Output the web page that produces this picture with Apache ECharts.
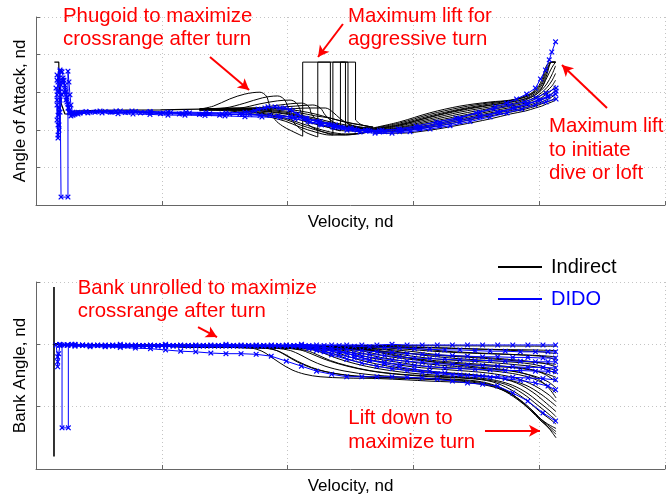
<!DOCTYPE html>
<html>
<head>
<meta charset="utf-8">
<title>Indirect vs DIDO controls</title>
<script src="https://cdn.jsdelivr.net/npm/echarts@6/dist/echarts.min.js"></script>
<style>
  html, body { margin: 0; padding: 0; background: #ffffff; }
  #chart { width: 671px; height: 495px; }
</style>
</head>
<body>
<div id="chart"></div>
<script>
// ---------- Angle of attack vs velocity (upper panel) ----------
// Indirect solution: shared low-velocity trunk
const aoaTrunk = [[0.146,3.80],[0.181,3.80],[0.183,3.20],[0.20,2.70],[0.23,2.42],[0.27,2.42],[0.31,2.50],[0.51,2.52],[0.99,2.53],[1.30,2.55]];

// Indirect: phugoid arcs after the turn
const aoaPhugoid = [
  [[1.30,2.55],[1.41,2.63],[1.54,2.82],[1.66,2.95],[1.78,3.00],[1.83,2.90],[1.85,2.72],[1.87,2.50],[1.90,2.27],[1.96,2.10],[2.02,1.99],[2.12,1.83]],
  [[1.30,2.55],[1.50,2.58],[1.66,2.71],[1.80,2.85],[1.92,2.90],[1.97,2.82],[2.00,2.63],[2.02,2.37],[2.06,2.15],[2.14,1.94],[2.24,1.81]],
  [[1.30,2.55],[1.62,2.58],[1.78,2.69],[1.92,2.77],[2.02,2.79],[2.07,2.71],[2.10,2.53],[2.12,2.31],[2.18,2.10],[2.26,1.97],[2.36,1.86]],
  [[1.30,2.55],[1.74,2.58],[1.94,2.66],[2.11,2.71],[2.17,2.61],[2.19,2.42],[2.24,2.23],[2.32,2.07],[2.42,1.97]],
  [[1.30,2.55],[1.82,2.58],[2.06,2.63],[2.20,2.66],[2.26,2.58],[2.30,2.39],[2.36,2.21],[2.46,2.07],[2.58,2.02],[2.68,1.99]],
  [[1.30,2.55],[1.94,2.55],[2.18,2.58],[2.30,2.58],[2.36,2.47],[2.42,2.29],[2.50,2.13],[2.58,2.05],[2.68,2.02]]
];

// Indirect: maximum-lift arcs during the turn (bang-bang)
const aoaTurnBoxes = [
  [[2.12,1.83],[2.12,3.80],[2.34,3.80],[2.34,2.15]],
  [[2.24,1.81],[2.24,3.80],[2.54,3.80],[2.54,2.26]],
  [[2.36,1.86],[2.36,3.80],[2.48,3.80],[2.48,2.15]],
  [[2.42,1.97],[2.42,3.80],[2.46,3.80],[2.46,2.10]]
];
const aoaAfterTurn = [
  [[2.34,2.15],[2.42,2.10],[2.54,2.05],[2.68,2.02]],
  [[2.54,2.26],[2.59,2.13],[2.68,2.07]],
  [[2.48,2.15],[2.58,2.07],[2.68,2.05]],
  [[2.46,2.10],[2.56,2.05],[2.68,2.02]]
];

// Indirect: main bundle through the turn region
const aoaBodyV = [1.30,1.54,1.78,1.98,2.10,2.22,2.34,2.46,2.58,2.68];
const aoaBody = [
  [2.54,2.58,2.55,2.50,2.45,2.37,2.31,2.20,2.13,2.07],
  [2.54,2.55,2.53,2.47,2.39,2.31,2.21,2.13,2.07,2.05],
  [2.53,2.54,2.50,2.42,2.34,2.23,2.13,2.05,2.02,2.02],
  [2.53,2.53,2.47,2.37,2.26,2.15,2.05,1.97,1.97,2.00],
  [2.53,2.53,2.45,2.31,2.18,2.05,1.94,1.89,1.91,1.97],
  [2.53,2.50,2.39,2.23,2.07,1.94,1.86,1.86,1.91,1.97],
  [2.54,2.57,2.58,2.55,2.50,2.42,2.31,2.21,2.13,2.07],
  [2.53,2.55,2.51,2.44,2.37,2.27,2.17,2.09,2.04,2.03],
  [2.53,2.52,2.43,2.28,2.13,2.00,1.90,1.87,1.90,1.97]
];

// Indirect: high-velocity fan up to the initial max-lift pull
const aoaRightV = [2.68,2.89,3.13,3.37,3.61,3.77,3.89,3.97,4.02,4.06,4.10,4.13];
const aoaRight = [
  [2.05,2.21,2.45,2.63,2.74,2.79,2.90,3.06,3.32,3.72,3.80,3.80],
  [2.04,2.18,2.41,2.59,2.72,2.78,2.88,3.03,3.25,3.62,3.80,3.80],
  [2.02,2.15,2.37,2.55,2.69,2.77,2.87,3.01,3.19,3.54,3.80,3.80],
  [2.02,2.13,2.34,2.53,2.66,2.74,2.82,2.93,3.11,3.46,3.80,3.80],
  [2.00,2.12,2.33,2.51,2.65,2.73,2.83,2.97,3.12,3.38,3.65,3.80],
  [1.99,2.10,2.29,2.47,2.61,2.69,2.79,2.93,3.06,3.22,3.46,3.70],
  [1.98,2.07,2.25,2.42,2.57,2.66,2.75,2.87,2.99,3.12,3.30,3.50],
  [1.97,2.05,2.21,2.37,2.53,2.63,2.71,2.82,2.93,3.03,3.16,3.32],
  [1.96,2.03,2.17,2.33,2.49,2.59,2.67,2.76,2.86,2.95,3.05,3.18],
  [1.97,2.02,2.13,2.29,2.45,2.55,2.63,2.71,2.79,2.87,2.95,3.06],
  [1.95,1.99,2.10,2.25,2.41,2.51,2.59,2.67,2.74,2.80,2.87,2.96],
  [1.94,1.97,2.07,2.21,2.37,2.47,2.55,2.63,2.69,2.74,2.79,2.87],
  [1.91,1.91,1.99,2.13,2.29,2.42,2.50,2.58,2.63,2.69,2.74,2.79]
];

// DIDO solutions, angle of attack
const aoaDido = [
  [[0.167,3.32],[0.175,3.01],[0.183,3.38],[0.191,3.56],[0.199,3.56],[0.199,0.21],[0.254,0.21],[0.254,3.56],[0.262,3.27],[0.270,2.93],[0.278,2.66],[0.290,2.47],[0.31,2.42],[0.35,2.45],[0.43,2.47],[0.55,2.49],[0.67,2.50],[0.79,2.49],[0.91,2.47],[1.07,2.46],[1.22,2.45],[1.38,2.43],[1.54,2.42],[1.70,2.41],[1.86,2.39],[2.02,2.35],[2.14,2.30],[2.26,2.22],[2.38,2.13],[2.50,2.05],[2.62,1.99],[2.73,1.98],[2.89,2.01],[3.05,2.07],[3.21,2.18],[3.37,2.31],[3.53,2.47],[3.65,2.61],[3.74,2.71],[3.82,2.82],[3.90,2.95],[3.97,3.11],[4.01,3.35],[4.05,3.59],[4.08,3.86],[4.10,4.07],[4.13,4.34]],
  [[0.167,2.93],[0.167,2.26],[0.175,1.78],[0.183,2.13],[0.191,2.79],[0.199,3.19],[0.215,3.32],[0.231,3.06],[0.246,2.74],[0.262,2.47],[0.278,2.37],[0.302,2.42],[0.35,2.45],[0.47,2.47],[0.59,2.47],[0.71,2.46],[0.83,2.45],[0.99,2.43],[1.14,2.42],[1.30,2.41],[1.46,2.39],[1.62,2.42],[1.74,2.50],[1.82,2.58],[1.90,2.61],[1.98,2.58],[2.04,2.50],[2.10,2.34],[2.18,2.21],[2.27,2.13],[2.38,2.07],[2.50,2.02],[2.62,1.97],[2.73,1.94],[2.89,1.95],[3.05,2.02],[3.21,2.10],[3.37,2.21],[3.53,2.34],[3.69,2.47],[3.81,2.58],[3.91,2.69],[4.01,2.79],[4.07,2.87],[4.13,2.95]],
  [[0.167,2.66],[0.175,2.13],[0.175,1.86],[0.183,1.99],[0.191,2.47],[0.207,2.93],[0.223,3.01],[0.238,2.79],[0.254,2.58],[0.270,2.45],[0.294,2.39],[0.334,2.42],[0.413,2.45],[0.525,2.45],[0.652,2.43],[0.771,2.42],[0.906,2.41],[1.049,2.39],[1.184,2.39],[1.343,2.38],[1.502,2.37],[1.661,2.35],[1.796,2.34],[1.940,2.33],[2.059,2.29],[2.162,2.23],[2.258,2.15],[2.361,2.07],[2.472,1.99],[2.576,1.94],[2.695,1.91],[2.830,1.91],[2.973,1.95],[3.132,2.02],[3.291,2.11],[3.450,2.22],[3.609,2.34],[3.744,2.45],[3.863,2.55],[3.967,2.66],[4.054,2.74],[4.134,2.82]],
  [[0.159,3.11],[0.167,2.79],[0.175,2.39],[0.183,2.58],[0.191,3.01],[0.199,3.27],[0.215,3.38],[0.231,3.19],[0.246,2.87],[0.262,2.58],[0.286,2.42],[0.318,2.45],[0.382,2.47],[0.485,2.49],[0.604,2.47],[0.731,2.47],[0.866,2.46],[1.010,2.45],[1.161,2.43],[1.320,2.42],[1.479,2.42],[1.638,2.41],[1.781,2.38],[1.924,2.37],[2.051,2.34],[2.154,2.29],[2.242,2.21],[2.337,2.13],[2.440,2.05],[2.552,1.99],[2.655,1.97],[2.774,1.95],[2.909,1.98],[3.052,2.05],[3.211,2.15],[3.370,2.26],[3.529,2.37],[3.672,2.47],[3.792,2.58],[3.903,2.69],[3.991,2.79],[4.070,2.90],[4.134,3.03]],
  [[0.167,3.46],[0.175,3.27],[0.191,3.59],[0.207,3.54],[0.223,3.32],[0.238,3.01],[0.254,2.69],[0.270,2.53],[0.294,2.45],[0.334,2.47],[0.397,2.49],[0.509,2.50],[0.636,2.50],[0.763,2.50],[0.906,2.49],[1.049,2.47],[1.192,2.47],[1.351,2.46],[1.510,2.45],[1.661,2.47],[1.765,2.55],[1.844,2.61],[1.940,2.58],[2.019,2.53],[2.083,2.42],[2.146,2.31],[2.226,2.23],[2.321,2.15],[2.424,2.07],[2.536,2.02],[2.639,1.99],[2.750,1.99],[2.878,2.02],[3.021,2.10],[3.180,2.21],[3.339,2.31],[3.498,2.45],[3.641,2.55],[3.768,2.66],[3.879,2.74],[3.975,2.85],[4.054,2.98],[4.134,3.11]]
];

// ---------- Bank angle vs velocity (lower panel) ----------
const bankStartEdge = [[0.143,2.92],[0.143,0.20]];

const bankIndirect = [
  [[0.143,2.00],[0.906,1.97],[1.701,1.94],[1.796,1.89],[1.860,1.81],[1.940,1.70],[2.035,1.59],[2.138,1.52],[2.258,1.48],[2.456,1.46],[2.734,1.45],[3.132,1.41],[3.450,1.38],[3.609,1.33],[3.728,1.25],[3.847,1.11],[3.951,0.93],[4.030,0.76],[4.086,0.63],[4.134,0.50]],
  [[0.143,2.00],[0.906,1.97],[1.781,1.94],[1.900,1.91],[1.979,1.83],[2.075,1.72],[2.194,1.62],[2.353,1.54],[2.576,1.48],[2.973,1.45],[3.370,1.41],[3.569,1.36],[3.704,1.27],[3.824,1.12],[3.927,0.95],[4.014,0.77],[4.078,0.66],[4.134,0.56]],
  [[0.143,2.00],[0.906,1.97],[1.820,1.94],[1.940,1.88],[2.030,1.78],[2.130,1.68],[2.250,1.59],[2.420,1.52],[2.650,1.48],[3.050,1.45],[3.400,1.42],[3.580,1.37],[3.720,1.27],[3.840,1.11],[3.950,0.91],[4.040,0.75],[4.134,0.60]],
  [[0.143,2.00],[0.906,1.97],[1.860,1.94],[2.003,1.91],[2.083,1.85],[2.178,1.75],[2.297,1.65],[2.456,1.57],[2.671,1.51],[3.052,1.46],[3.410,1.43],[3.585,1.38],[3.728,1.27],[3.855,1.09],[3.967,0.88],[4.054,0.74],[4.134,0.65]],
  [[0.143,2.00],[0.906,1.97],[1.940,1.94],[2.099,1.91],[2.186,1.85],[2.281,1.77],[2.401,1.69],[2.560,1.61],[2.774,1.54],[3.132,1.48],[3.450,1.45],[3.625,1.40],[3.768,1.28],[3.895,1.11],[4.006,0.92],[4.086,0.80],[4.134,0.72]],
  [[0.143,2.00],[0.906,1.97],[1.980,1.94],[2.150,1.90],[2.240,1.83],[2.340,1.74],[2.470,1.66],[2.650,1.58],[2.900,1.52],[3.250,1.48],[3.540,1.44],[3.730,1.36],[3.870,1.21],[3.990,1.02],[4.070,0.89],[4.134,0.78]],
  [[0.143,2.00],[0.906,1.97],[2.019,1.94],[2.202,1.91],[2.297,1.85],[2.401,1.77],[2.536,1.69],[2.719,1.61],[2.973,1.54],[3.291,1.49],[3.569,1.45],[3.752,1.37],[3.887,1.24],[4.006,1.06],[4.086,0.93],[4.134,0.84]],
  [[0.143,2.00],[0.906,1.97],[2.060,1.94],[2.250,1.91],[2.360,1.85],[2.470,1.77],[2.610,1.69],[2.800,1.62],[3.070,1.56],[3.390,1.52],[3.650,1.47],[3.820,1.38],[3.950,1.23],[4.060,1.05],[4.134,0.92]],
  [[0.143,2.00],[0.906,1.97],[2.099,1.94],[2.305,1.91],[2.417,1.85],[2.536,1.77],[2.695,1.69],[2.893,1.62],[3.172,1.56],[3.490,1.51],[3.728,1.44],[3.887,1.35],[4.014,1.20],[4.134,1.01]],
  [[0.143,2.00],[0.906,1.97],[2.140,1.94],[2.360,1.91],[2.480,1.85],[2.600,1.78],[2.770,1.71],[2.990,1.64],[3.290,1.59],[3.590,1.54],[3.810,1.46],[3.960,1.34],[4.070,1.20],[4.134,1.08]],
  [[0.143,2.00],[0.906,1.97],[2.496,1.94],[2.734,1.88],[2.973,1.78],[3.211,1.70],[3.490,1.64],[3.768,1.58],[3.967,1.47],[4.070,1.31],[4.134,1.14]],
  [[0.143,2.00],[0.906,1.97],[2.178,1.94],[2.417,1.91],[2.544,1.85],[2.671,1.78],[2.854,1.72],[3.092,1.65],[3.410,1.61],[3.688,1.56],[3.887,1.49],[4.030,1.38],[4.134,1.22]],
  [[0.143,2.00],[0.906,1.97],[2.220,1.94],[2.480,1.91],[2.610,1.85],[2.740,1.79],[2.930,1.73],[3.190,1.67],[3.510,1.62],[3.780,1.57],[3.960,1.49],[4.070,1.40],[4.134,1.30]],
  [[0.143,2.00],[0.906,1.97],[2.258,1.94],[2.544,1.91],[2.671,1.86],[2.814,1.80],[3.013,1.75],[3.291,1.70],[3.609,1.65],[3.863,1.61],[4.022,1.54],[4.134,1.40]],
  [[0.143,2.00],[0.906,1.97],[2.340,1.94],[2.620,1.91],[2.750,1.86],[2.900,1.80],[3.110,1.75],[3.400,1.70],[3.720,1.65],[3.950,1.59],[4.134,1.47]],
  [[0.143,2.00],[0.906,1.97],[2.417,1.94],[2.695,1.91],[2.830,1.86],[2.989,1.81],[3.211,1.76],[3.529,1.72],[3.831,1.67],[4.022,1.62],[4.134,1.53]],
  [[0.143,2.00],[0.906,1.97],[2.500,1.94],[2.780,1.91],[2.920,1.87],[3.100,1.82],[3.360,1.77],[3.680,1.73],[3.950,1.68],[4.134,1.58]],
  [[0.143,2.00],[0.906,1.97],[2.576,1.94],[2.854,1.91],[3.013,1.88],[3.211,1.83],[3.490,1.80],[3.808,1.75],[4.022,1.70],[4.134,1.64]],
  [[0.143,2.00],[0.906,1.97],[2.337,1.94],[2.734,1.89],[3.132,1.83],[3.529,1.78],[3.847,1.73],[4.134,1.68]],
  [[0.143,2.00],[0.906,1.97],[2.734,1.96],[3.052,1.93],[3.251,1.89],[3.529,1.86],[3.847,1.83],[4.046,1.80],[4.134,1.75]],
  [[0.143,2.00],[0.906,1.97],[2.650,1.95],[2.950,1.92],[3.150,1.89],[3.430,1.86],[3.750,1.84],[4.000,1.82],[4.134,1.80]],
  [[0.143,2.00],[0.906,1.97],[2.893,1.96],[3.291,1.94],[3.688,1.91],[4.006,1.88],[4.134,1.85]],
  [[0.143,2.00],[0.906,1.97],[2.800,1.96],[3.200,1.94],[3.600,1.92],[3.950,1.91],[4.134,1.90]],
  [[0.143,2.00],[4.134,1.97]]
];

// DIDO bank angle: initial transient
const bankDidoSpike = [[0.159,1.99],[0.172,1.80],[0.172,1.72],[0.172,1.64],[0.180,1.85],[0.191,1.99],[0.207,1.99],[0.207,0.66],[0.257,0.66],[0.257,1.99],[0.286,2.00]];

// DIDO bank angle: node velocities (two staggered node sets)
const bankNodesA = [0.19,0.31,0.43,0.55,0.67,0.79,0.91,1.03,1.15,1.27,1.39,1.51,1.63,1.75,1.87,1.99,2.11,2.23,2.35,2.47,2.59,2.71,2.83,2.95,3.07,3.19,3.31,3.43,3.55,3.67,3.79,3.91,4.03,4.13];
const bankNodesB = [0.25,0.37,0.49,0.61,0.73,0.85,0.97,1.09,1.21,1.33,1.45,1.57,1.69,1.81,1.93,2.05,2.17,2.29,2.41,2.53,2.65,2.77,2.89,3.01,3.13,3.25,3.37,3.49,3.61,3.73,3.85,3.97,4.07,4.13];

const bankDidoA = [
  [2.00,2.00,1.99,1.99,2.00,1.99,1.99,2.00,1.99,1.99,1.99,2.00,1.99,1.99,1.99,1.99,2.00,1.99,1.99,1.99,1.99,1.99,2.00,1.99,1.99,1.99,1.99,1.99,1.99,1.99,1.99,1.99,1.99,1.99],
  [1.99,1.99,1.98,1.98,1.98,1.98,1.98,1.98,1.98,1.98,1.98,1.98,1.98,1.98,1.98,1.98,1.98,1.96,1.94,1.92,1.90,1.88,1.87,1.85,1.84,1.83,1.82,1.81,1.80,1.80,1.79,1.79,1.78,1.78],
  [1.99,1.99,1.98,1.98,1.98,1.98,1.98,1.98,1.98,1.98,1.98,1.98,1.98,1.98,1.98,1.98,1.97,1.93,1.89,1.85,1.81,1.78,1.75,1.73,1.71,1.69,1.68,1.67,1.66,1.65,1.64,1.63,1.63,1.62],
  [1.99,1.98,1.98,1.97,1.97,1.97,1.97,1.97,1.97,1.97,1.97,1.97,1.97,1.97,1.97,1.97,1.96,1.90,1.83,1.76,1.70,1.65,1.61,1.58,1.55,1.53,1.51,1.50,1.49,1.48,1.47,1.46,1.45,1.43],
  [1.99,1.97,1.96,1.96,1.95,1.94,1.93,1.91,1.89,1.88,1.86,1.85,1.85,1.84,1.81,1.73,1.65,1.57,1.52,1.48,1.48,1.48,1.48,1.47,1.46,1.44,1.41,1.38,1.36,1.33,1.22,1.09,0.90,0.77]
];
const bankDidoB = [
  [1.99,1.99,1.99,1.99,1.99,1.98,1.98,1.98,1.98,1.98,1.98,1.98,1.98,1.98,1.98,1.98,1.98,1.98,1.98,1.97,1.96,1.95,1.94,1.93,1.92,1.91,1.91,1.90,1.89,1.89,1.88,1.88,1.88,1.88],
  [1.99,1.99,1.98,1.98,1.98,1.98,1.98,1.98,1.98,1.98,1.98,1.98,1.98,1.98,1.98,1.98,1.95,1.92,1.89,1.86,1.84,1.82,1.80,1.78,1.77,1.76,1.75,1.74,1.74,1.73,1.73,1.72,1.72,1.72],
  [1.99,1.98,1.98,1.98,1.98,1.98,1.98,1.98,1.98,1.98,1.98,1.98,1.98,1.98,1.98,1.97,1.93,1.88,1.83,1.78,1.74,1.71,1.68,1.66,1.64,1.62,1.61,1.60,1.59,1.58,1.58,1.57,1.57,1.56],
  [1.99,1.98,1.98,1.97,1.97,1.97,1.97,1.97,1.97,1.97,1.97,1.97,1.97,1.97,1.97,1.97,1.97,1.95,1.89,1.82,1.75,1.69,1.64,1.60,1.57,1.54,1.51,1.49,1.47,1.45,1.42,1.38,1.33,1.27]
];

// ---------- styling & assembly ----------
const FONT = '"Liberation Sans", Arial, Helvetica, sans-serif';
const BLACK = '#000000';
const BLUE = '#0000ff';
const RED = '#ff0000';
const X_MARK = 'path://M0,1.5L1.5,0L5,3.5L8.5,0L10,1.5L6.5,5L10,8.5L8.5,10L5,6.5L1.5,10L0,8.5L3.5,5Z';

const zip = (xs, ys) => xs.map((x, i) => [x, ys[i]]);

function indirect(data, g, smooth, width) {
  return {
    type: 'line', name: 'Indirect', xAxisIndex: g, yAxisIndex: g, data,
    smooth: smooth ? 0.35 : false,
    symbol: 'none', showSymbol: false,
    lineStyle: { color: BLACK, width: width || 1 },
    itemStyle: { color: BLACK },
    emphasis: { disabled: true }, silent: true, animation: false
  };
}
function dido(data, g) {
  return {
    type: 'line', name: 'DIDO', xAxisIndex: g, yAxisIndex: g, data,
    symbol: X_MARK, symbolSize: 5.5, showSymbol: true, showAllSymbol: true,
    lineStyle: { color: BLUE, width: 1 },
    itemStyle: { color: BLUE },
    emphasis: { disabled: true }, silent: true, animation: false
  };
}
function arrows(list) {
  return {
    silent: true, animation: false,
    symbol: ['none', 'arrow'], symbolSize: [9, 11],
    label: { show: false },
    lineStyle: { color: RED, width: 2, type: 'solid' },
    emphasis: { disabled: true },
    data: list.map(a => [{ coord: a[0] }, { coord: a[1] }])
  };
}

const series = [];
// upper panel
const trunk = indirect(aoaTrunk, 0, false, 1.2);
trunk.markLine = arrows([
  [[1.383, 3.936], [1.694, 3.059]],
  [[2.440, 4.814], [2.242, 3.936]],
  [[4.539, 2.580], [4.181, 3.723]]
]);
series.push(trunk);
aoaPhugoid.forEach(d => series.push(indirect(d, 0, true)));
aoaTurnBoxes.forEach(d => series.push(indirect(d, 0, false)));
aoaAfterTurn.forEach(d => series.push(indirect(d, 0, true)));
aoaBody.forEach(ys => series.push(indirect(zip(aoaBodyV, ys), 0, true)));
aoaRight.forEach(ys => series.push(indirect(zip(aoaRightV, ys), 0, true)));
aoaDido.forEach(d => series.push(dido(d, 0)));
// lower panel
const edge = indirect(bankStartEdge, 1, false, 1.6);
edge.markLine = arrows([
  [[1.288, 2.277], [1.439, 2.117]],
  [[3.569, 0.613], [4.006, 0.613]]
]);
series.push(edge);
bankIndirect.forEach(d => series.push(indirect(d, 1, true)));
series.push(dido(bankDidoSpike, 1));
bankDidoB.forEach(ys => series.push(dido(zip(bankNodesB, ys), 1)));
bankDidoA.forEach(ys => series.push(dido(zip(bankNodesA, ys), 1)));

const axisColor = '#666666';
function xAxis(g) {
  return {
    gridIndex: g, type: 'value', min: 0, max: 5, interval: 1,
    name: 'Velocity, nd', nameLocation: 'middle', nameGap: 9,
    nameTextStyle: { fontSize: 17, color: '#000', fontFamily: FONT },
    axisLine: { lineStyle: { color: axisColor, width: 1 } },
    axisTick: { inside: true, length: 4, lineStyle: { color: axisColor } },
    axisLabel: { show: false },
    splitLine: { show: true, lineStyle: { color: '#c4c4c4', type: [1, 3], width: 1 } }
  };
}
function yAxis(g, max, name) {
  return {
    gridIndex: g, type: 'value', min: 0, max: max, interval: 1,
    name: name, nameLocation: 'middle', nameGap: 7,
    nameTextStyle: { fontSize: 17, color: '#000', fontFamily: FONT },
    axisLine: { show: true, lineStyle: { color: axisColor, width: 1 } },
    axisTick: { show: true, inside: true, length: 4, lineStyle: { color: axisColor } },
    axisLabel: { show: false },
    splitLine: { show: true, lineStyle: { color: '#c4c4c4', type: [1, 3], width: 1 } }
  };
}

const noteFont = '20.4px ' + FONT;
function note(x, y, text) {
  return {
    type: 'text', x: x, y: y, silent: true, z: 100,
    style: { text: text, fill: RED, font: noteFont, lineHeight: 23.4, align: 'left', verticalAlign: 'top' }
  };
}

const chart = echarts.init(document.getElementById('chart'), null, { renderer: 'canvas' });
chart.setOption({
  animation: false,
  backgroundColor: '#ffffff',
  textStyle: { fontFamily: FONT },
  grid: [
    { left: 36, top: 17, width: 629, height: 188, outerBoundsMode: 'none' },
    { left: 36, top: 282, width: 629, height: 187, outerBoundsMode: 'none' }
  ],
  xAxis: [xAxis(0), xAxis(1)],
  yAxis: [yAxis(0, 5, 'Angle of Attack, nd'), yAxis(1, 3, 'Bank Angle, nd')],
  legend: {
    data: [
      { name: 'Indirect', textStyle: { color: BLACK } },
      { name: 'DIDO', textStyle: { color: BLUE } }
    ],
    orient: 'vertical', left: 493, top: 252,
    itemWidth: 44, itemHeight: 2, itemGap: 12, icon: 'rect',
    selectedMode: false,
    textStyle: { fontSize: 20, fontFamily: FONT, padding: [0, 0, 0, 4] }
  },
  graphic: [
    note(63, 4.6, 'Phugoid to maximize\ncrossrange after turn'),
    note(348, 4.6, 'Maximum lift for\naggressive turn'),
    note(549, 115, 'Maximum lift\nto initiate\ndive or loft'),
    note(77.7, 276.3, 'Bank unrolled to maximize\ncrossrange after turn'),
    note(348.3, 407, 'Lift down to\nmaximize turn')
  ],
  series: series
});
</script>
</body>
</html>
